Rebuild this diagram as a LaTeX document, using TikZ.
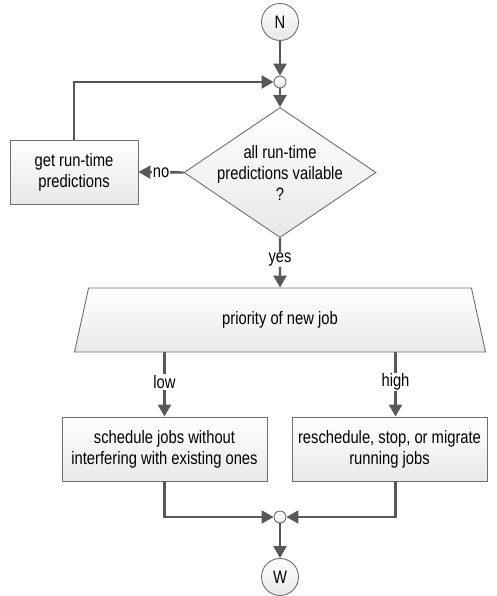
\documentclass[tikz,border=0pt]{standalone}
\usepackage{fontspec}
\setmainfont{Liberation Sans}[FakeStretch=0.82]
\usetikzlibrary{shapes.geometric, arrows.meta}

\definecolor{linegray}{HTML}{585858}
\definecolor{edgegray}{HTML}{6E6E6E}

\tikzset{
	flow/.style={line width=2.4pt, draw=linegray, -{Triangle[length=12pt, width=13pt]}},
	shaded/.style={draw=edgegray, line width=0.9pt, top color=white, bottom color=gray!18},
	proc/.style={shaded, rectangle, align=center, minimum height=64pt, inner sep=2pt},
	term/.style={shaded, circle, minimum size=37pt, inner sep=0pt},
	joint/.style={shaded, circle, minimum size=12pt, inner sep=0pt},
	tag/.style={fill=white, inner sep=1pt},
	every node/.style={font=\fontsize{18}{21}\selectfont}
}

\begin{document}
\begin{tikzpicture}[x=1pt, y=-1pt]
	\useasboundingbox (0, 0) rectangle (497, 596);
	% nodes
	\node[term] (start) at (280, 22) {N};
	\node[joint] (top) at (280, 82) {};
	\node[shaded, diamond, minimum width=192pt, minimum height=130pt, inner sep=0pt,
		label={[align=center, font=\fontsize{18}{21}\selectfont]center:all run-time\\predictions vailable\\?}] (check) at (280, 172.5) {};
	\node[proc, minimum width=128pt] (fetch) at (74, 172) {get run-time\\predictions};
	\node[shaded, trapezium, trapezium angle=59, trapezium stretches body,
		minimum width=411pt, minimum height=64pt] (prio) at (280, 320) {priority of new job};
	\node[proc, minimum width=205pt] (low) at (164.5, 449) {schedule jobs without\\interfering with existing ones};
	\node[proc, minimum width=195pt] (high) at (389.5, 449) {reschedule, stop, or migrate\\running jobs};
	\node[joint] (bottom) at (280, 517) {};
	\node[term] (end) at (280, 577) {W};

	% connectors
	\draw[flow] (start) -- (top);
	\draw[flow] (top) -- (check.north);
	\draw[flow] (check.west) -- node[tag] {no} (fetch.east);
	\draw[flow] (fetch.north) |- (top.west);
	\draw[flow] (check.south) -- node[tag, pos=0.43] {yes} (prio.north);
	\draw[flow] (prio.south -| low.north) -- node[tag, pos=0.46] {low} (low.north);
	\draw[flow] ([xshift=6pt]prio.south -| high.north) -- node[tag, pos=0.46] {high} ([xshift=6pt]high.north);
	\draw[flow] (low.south) |- (bottom.west);
	\draw[flow] ([xshift=6pt]high.south) |- (bottom.east);
	\draw[flow] (bottom) -- (end);
\end{tikzpicture}
\end{document}
